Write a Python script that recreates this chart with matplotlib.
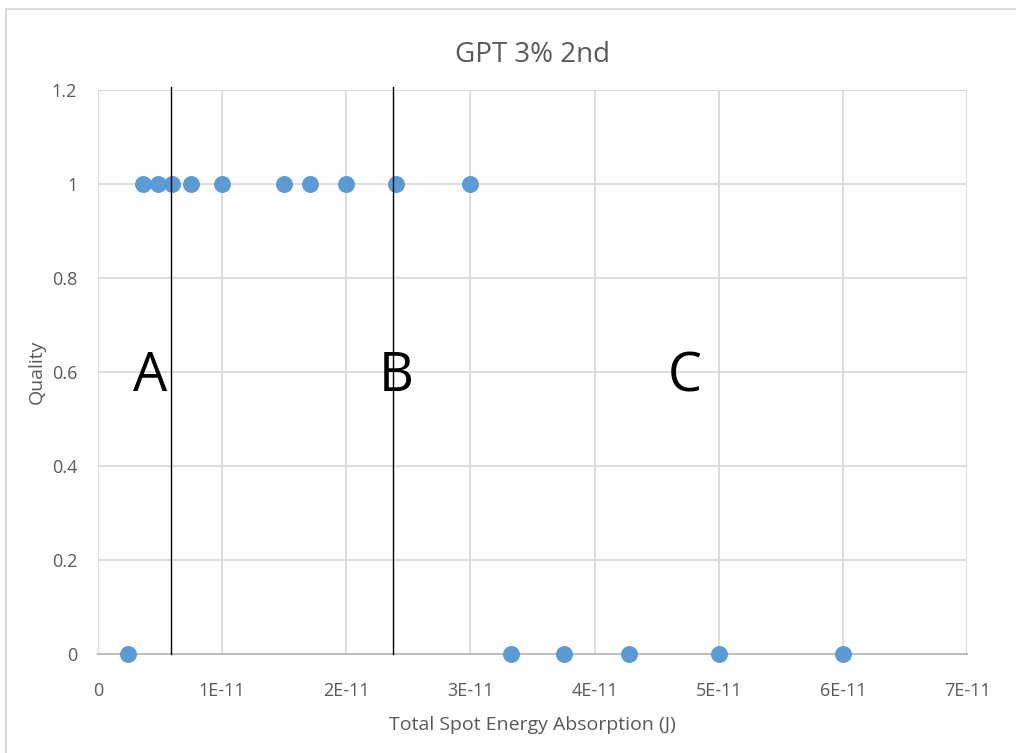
import matplotlib
matplotlib.use("Agg")
import matplotlib.pyplot as plt
from matplotlib.patches import Rectangle

# Data
energy_good = [3.6e-12, 4.8e-12, 6.0e-12, 7.5e-12, 1.0e-11, 1.5e-11, 1.71e-11, 2.0e-11, 2.4e-11, 3.0e-11]
quality_good = [1, 1, 1, 1, 1, 1, 1, 1, 1, 1]
energy_bad = [2.4e-12, 3.33e-11, 3.75e-11, 4.28e-11, 5.0e-11, 6.0e-11]
quality_bad = [0, 0, 0, 0, 0, 0]
boundaries = [5.9e-12, 2.38e-11]
region_labels = ["A", "B", "C"]
region_x = [4.2e-12, 2.4e-11, 4.73e-11]
region_y = 0.59
x_ticks = [0, 1e-11, 2e-11, 3e-11, 4e-11, 5e-11, 6e-11, 7e-11]
x_ticklabels = ["0", "1E-11", "2E-11", "3E-11", "4E-11", "5E-11", "6E-11", "7E-11"]
y_ticks = [0, 0.2, 0.4, 0.6, 0.8, 1.0, 1.2]
y_ticklabels = ["0", "0.2", "0.4", "0.6", "0.8", "1", "1.2"]

plt.rcParams['font.family'] = ['Open Sans', 'DejaVu Sans']
txt = "#595959"

fig = plt.figure(figsize=(10.16, 7.53), dpi=100)
fig.patches.append(Rectangle((6/1016, -0.01), 1.02, 1 - 9/753 + 0.01, transform=fig.transFigure,
                             fill=False, edgecolor="#D9D9D9", linewidth=1.5))
ax = fig.add_axes([98/1016, 1 - 654/753, (967 - 98)/1016, (654 - 90)/753])

ax.set_xlim(0, 7e-11)
ax.set_ylim(0, 1.2)
ax.set_xticks(x_ticks)
ax.set_xticklabels(x_ticklabels)
ax.set_yticks(y_ticks)
ax.set_yticklabels(y_ticklabels)
ax.grid(True, color="#D9D9D9", linewidth=1.3)
ax.set_axisbelow(True)
for s in ["top", "right", "left"]:
    ax.spines[s].set_visible(False)
ax.spines["bottom"].set_color("#BFBFBF")
ax.spines["bottom"].set_linewidth(1.5)
ax.tick_params(axis="x", length=0, labelsize=13, colors=txt, pad=20)
ax.tick_params(axis="y", length=0, labelsize=13, colors=txt, pad=15)

ax.scatter(energy_good, quality_good, s=125, color="#5B9BD5", zorder=3, clip_on=False)
ax.scatter(energy_bad, quality_bad, s=125, color="#5B9BD5", zorder=3, clip_on=False)

for b in boundaries:
    ax.axvline(b, ymin=0, ymax=1.005, color="black", linewidth=1.0, zorder=4, clip_on=False)

for lab, xv in zip(region_labels, region_x):
    ax.text(xv, region_y, lab, fontsize=39, ha="center", va="center", color="black", zorder=5)

ax.set_title("GPT 3% 2nd", fontsize=20, color=txt, pad=20)
ax.set_xlabel("Total Spot Energy Absorption (J)", fontsize=14, color=txt, labelpad=12)
ax.set_ylabel("Quality", fontsize=14, color=txt, labelpad=4)

fig.savefig("out.png", dpi=100)
